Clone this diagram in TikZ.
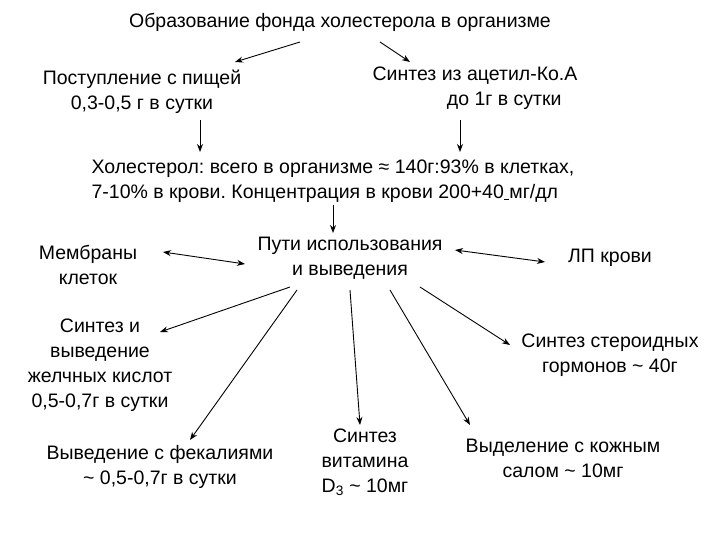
\documentclass[tikz,border=0pt]{standalone}
\usepackage{fontspec}
\setmainfont{Liberation Sans}
\usetikzlibrary{arrows.meta}
\frenchspacing
\begin{document}
\begin{tikzpicture}[x=1pt,y=-1pt,
  lbl/.style={align=center,font=\fontsize{19.5}{25}\selectfont,inner sep=1pt},
  arr/.style={-{Stealth[length=8pt,width=6pt]},line width=0.9pt},
  darr/.style={{Stealth[length=8pt,width=6pt]}-{Stealth[length=8pt,width=6pt]},line width=0.9pt}]
\useasboundingbox (0,0) rectangle (720,540);
\node[lbl] (t) at (340,22) {Образование фонда холестерола в организме};
\node[lbl] (p) at (142,92) {Поступление с пищей\\0,3-0,5 г в сутки};
\node[lbl] (s) at (475,88) {Синтез из ацетил-Ко.А\\\hspace*{3em}до 1г в сутки};
\node[lbl,align=left] (c) at (333,181) {Холестерол: всего в организме ≈ 140г:93\% в клетках,\\7-10\% в крови. Концентрация в крови 200+40\underline{\ }мг/дл};
\node[lbl] (u) at (350,258) {Пути использования\\и выведения};
\node[lbl] (m) at (88,265) {Мембраны\\клеток};
\node[lbl] (l) at (610,258) {ЛП крови};
\node[lbl] (j) at (100,365) {Синтез и\\выведение\\желчных кислот\\0,5-0,7г в сутки};
\node[lbl] (g) at (610,355) {Синтез стероидных\\гормонов \textasciitilde{} 40г};
\node[lbl] (f) at (160,467) {Выведение с фекалиями\\\textasciitilde{} 0,5-0,7г в сутки};
\node[lbl] (v) at (365,462) {Синтез\\витамина\\D\textsubscript{3} \textasciitilde{} 10мг};
\node[lbl] (k) at (563,458) {Выделение с кожным\\салом \textasciitilde{} 10мг};
\coordinate (t1) at (300,42); \coordinate (t2) at (380,42);
\coordinate (p1) at (200,120); \coordinate (s1) at (460,120);
\coordinate (c1) at (333,205);
\coordinate (u1) at (290,287); \coordinate (u2) at (297,290); \coordinate (u3) at (350,290);
\coordinate (u4) at (390,290); \coordinate (u5) at (420,287);
\draw[arr] (t1) -- (235,62);
\draw[arr] (t2) -- (410,62);
\draw[arr] (p1) -- (200,152);
\draw[arr] (s1) -- (460,152);
\draw[arr] (c1) -- (333,233);
\draw[darr] (163,252) -- (245,264);
\draw[darr] (455,250) -- (545,262);
\draw[arr] (u1) -- (160,332);
\draw[arr] (u2) -- (190,440);
\draw[arr] (u3) -- (360,425);
\draw[arr] (u4) -- (470,425);
\draw[arr] (u5) -- (510,345);
\end{tikzpicture}
\end{document}
